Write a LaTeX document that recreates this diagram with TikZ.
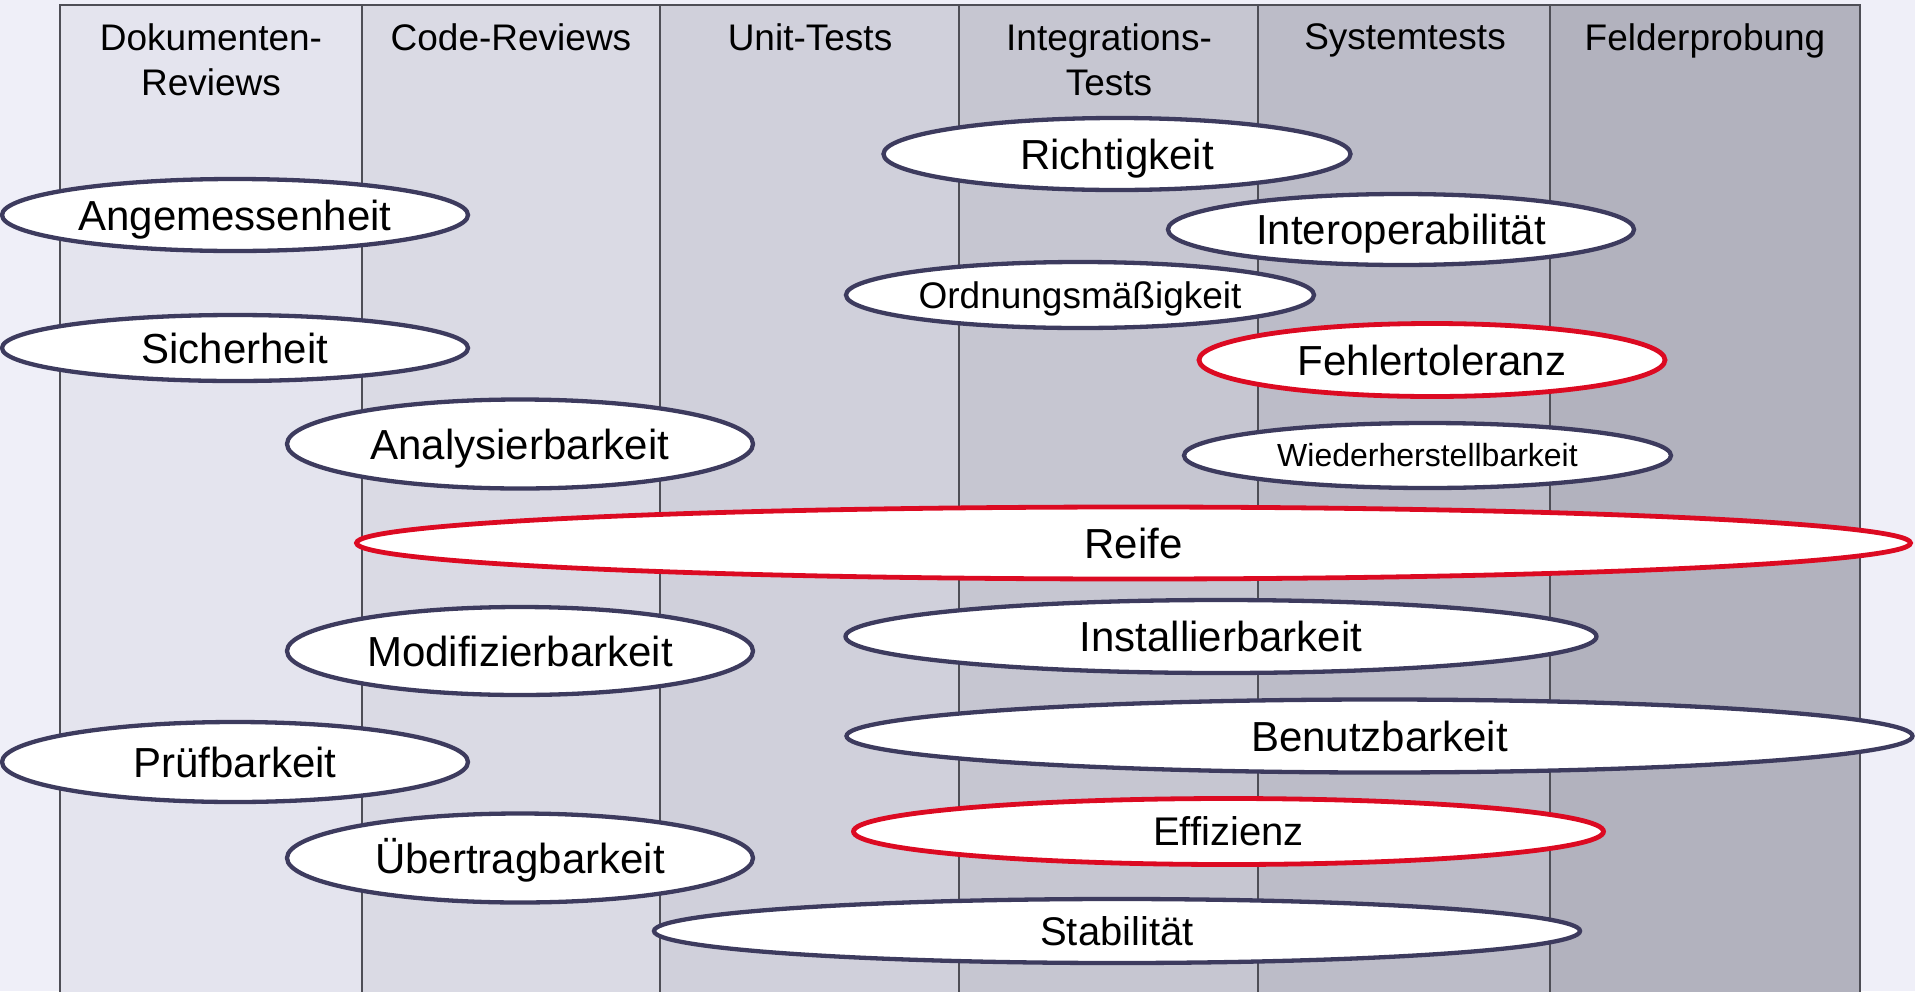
\documentclass[tikz,border=0pt]{standalone}
\usepackage{fontspec}
\setmainfont{Liberation Sans}
\usetikzlibrary{shapes.geometric}

\definecolor{pagebg}{HTML}{EFEFF8}
\definecolor{colA}{HTML}{E4E4EE}
\definecolor{colB}{HTML}{DADAE4}
\definecolor{colC}{HTML}{D0D0DB}
\definecolor{colD}{HTML}{C6C6D1}
\definecolor{colE}{HTML}{BCBCC8}
\definecolor{colF}{HTML}{B2B2BE}
\definecolor{colline}{HTML}{4E4E56}
\definecolor{navy}{HTML}{3D3B5E}
\definecolor{alarmred}{HTML}{DC0A22}

% text with zero height/depth, caps centred on the node centre
\newcommand\ctrcap[1]{\raisebox{-0.358em}[0pt][0pt]{#1}}

\begin{document}
\begin{tikzpicture}[x=1pt,y=-1pt,
  colbox/.style={draw=colline, line width=1.5pt},
  hdr/.style={font=\fontsize{37}{45}\selectfont, align=center, anchor=north, inner sep=0pt},
  qual/.style={ellipse, draw=navy, line width=4.3pt, fill=white, inner sep=0pt,
               font=\fontsize{42}{50}\selectfont},
  keyq/.style={qual, draw=alarmred, line width=4.8pt},
  sz/.style 2 args={minimum width=#1pt, minimum height=#2pt},
]
\useasboundingbox (0,0) rectangle (1915,991);
\clip (0,0) rectangle (1915,991);
\fill[pagebg] (0,0) rectangle (1915,991);

% test-phase columns
\filldraw[colbox, fill=colA] (60,5)   rectangle (362,1000);
\filldraw[colbox, fill=colB] (362,5)  rectangle (660,1000);
\filldraw[colbox, fill=colC] (660,5)  rectangle (959,1000);
\filldraw[colbox, fill=colD] (959,5)  rectangle (1258,1000);
\filldraw[colbox, fill=colE] (1258,5) rectangle (1550,1000);
\filldraw[colbox, fill=colF] (1550,5) rectangle (1860,1000);

% column headers
\node[hdr] (hdoc)  at (211,23.5)  {Dokumenten-\\Reviews};
\node[hdr] (hcode) at (511,23.5)  {Code-Reviews};
\node[hdr] (hunit) at (810,23.5)  {Unit-Tests};
\node[hdr] (hint)  at (1109,23.5) {Integrations-\\Tests};
\node[hdr] (hsys)  at (1405,23.5) {Systemtests};
\node[hdr] (hfeld) at (1705,23.5) {Felderprobung};

% quality characteristics
\node[qual, sz={466}{72}] (ang)    at (235,215)   {\ctrcap{Angemessenheit}};
\node[qual, sz={466}{66}] (sich)   at (235,348)   {\ctrcap{Sicherheit}};
\node[qual, sz={466}{80}] (pruef)  at (235,762)   {\ctrcap{Prüfbarkeit}};
\node[qual, sz={466}{89}] (analys) at (520,444)   {\ctrcap{Analysierbarkeit}};
\node[qual, sz={466}{88}] (modif)  at (520,651)   {\ctrcap{Modifizierbarkeit}};
\node[qual, sz={466}{89}] (uebert) at (520,858)   {\ctrcap{Übertragbarkeit}};
\node[qual, sz={467}{72}] (richt)  at (1117,154)  {\ctrcap{Richtigkeit}};
\node[qual, sz={466}{71}] (interop) at (1401,229.5) {\ctrcap{Interoperabilität}};
\node[qual, sz={468}{66}, font=\fontsize{37}{44}\selectfont] (ordn) at (1080,295) {\ctrcap{Ordnungsmäßigkeit}};
\node[keyq, sz={466}{73}] (fehler) at (1432,360)  {\ctrcap{Fehlertoleranz}};
\node[qual, sz={487}{65}, font=\fontsize{32}{38}\selectfont] (wieder) at (1427.5,455.5) {\ctrcap{Wiederherstellbarkeit}};
\node[keyq, sz={1554}{72}] (reife) at (1133.5,543) {\ctrcap{Reife}};
\node[qual, sz={751}{73}] (install) at (1221,636.5) {\ctrcap{Installierbarkeit}};
\node[qual, sz={1066}{73}] (benutz) at (1379.5,736) {\ctrcap{Benutzbarkeit}};
\node[keyq, sz={750}{66}, font=\fontsize{40}{48}\selectfont] (effiz) at (1228.5,831.5) {\ctrcap{Effizienz}};
\node[qual, sz={926}{64}, font=\fontsize{40}{48}\selectfont] (stab) at (1117,931) {\ctrcap{Stabilität}};
\end{tikzpicture}
\end{document}
